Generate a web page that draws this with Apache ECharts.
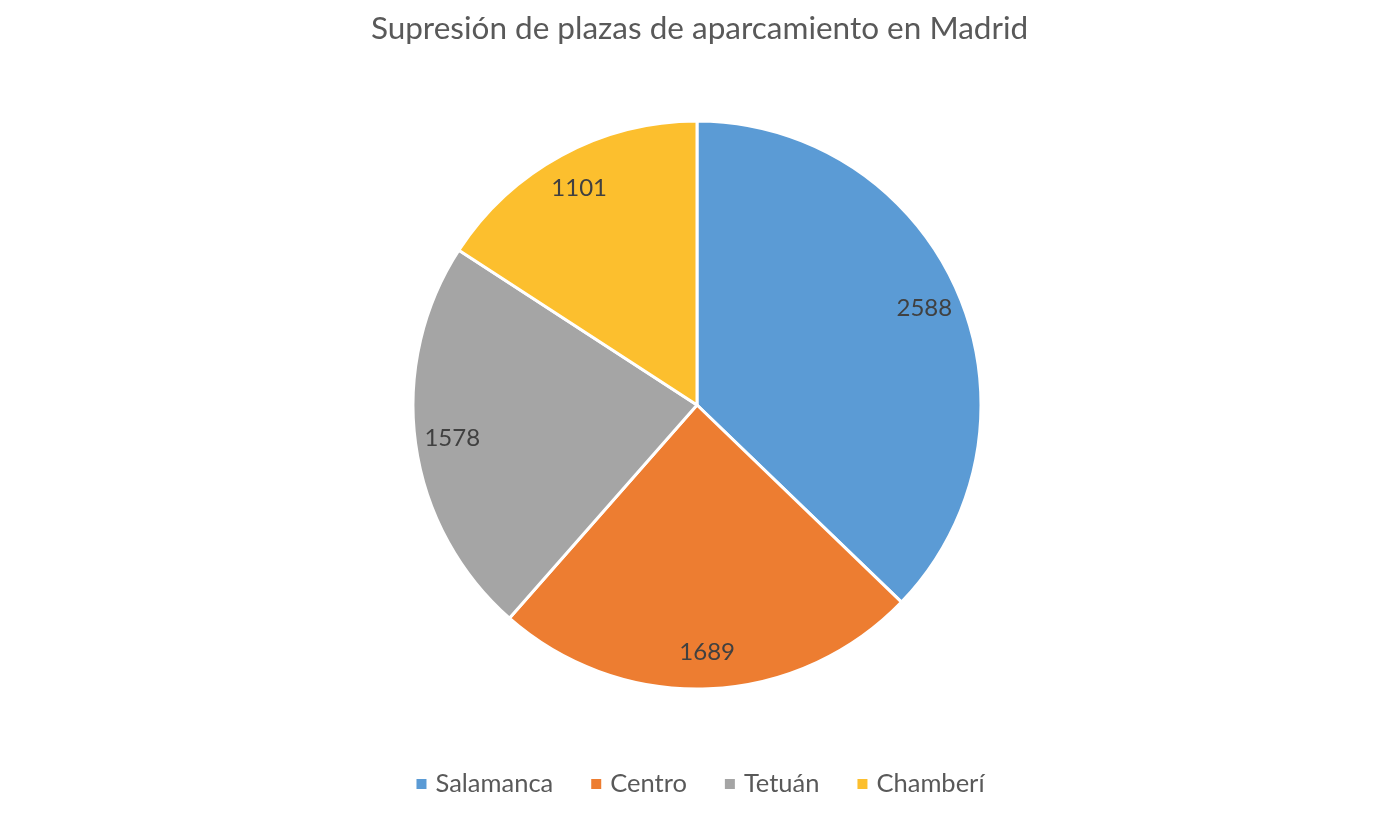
<!DOCTYPE html>
<html>
<head>
<meta charset="utf-8">
<script src="https://cdn.jsdelivr.net/npm/echarts@6/dist/echarts.min.js"></script>
<style>
html,body{margin:0;padding:0;background:#fff;}
#chart{width:1399px;height:817px;}
</style>
</head>
<body>
<div id="chart"></div>
<script>
var titleText = 'Supresión de plazas de aparcamiento en Madrid';
var categories = ['Salamanca', 'Centro', 'Tetuán', 'Chamberí'];
var values = [2588, 1689, 1578, 1101];
var colors = ['#5B9BD5', '#ED7D31', '#A5A5A5', '#FCBF2E'];

var data = categories.map(function (c, i) {
  return { name: c, value: values[i], itemStyle: { color: colors[i] } };
});
var labelData = categories.map(function (c, i) {
  return { name: c, value: values[i] };
});

var chart = echarts.init(document.getElementById('chart'));
chart.setOption({
  backgroundColor: '#ffffff',
  animation: false,
  title: {
    text: titleText,
    left: 'center',
    top: 8,
    textStyle: { fontFamily: 'Lato', fontSize: 31.5, fontWeight: 'normal', color: '#595959' }
  },
  legend: {
    bottom: 15,
    left: 'center',
    itemWidth: 12,
    itemHeight: 12,
    itemGap: 36,
    icon: 'rect',
    data: categories,
    textStyle: { fontFamily: 'Lato', fontSize: 25.5, color: '#595959', padding: [0, 0, 0, 3] }
  },
  series: [
    {
      type: 'pie',
      center: [697, 405],
      radius: [0, 284],
      startAngle: 90,
      clockwise: true,
      label: { show: false },
      labelLine: { show: false },
      itemStyle: { borderColor: '#ffffff', borderWidth: 3 },
      emphasis: { disabled: true },
      data: data
    },
    {
      type: 'pie',
      center: [697, 405],
      radius: [204, 284],
      startAngle: 90,
      clockwise: true,
      silent: true,
      legendHoverLink: false,
      itemStyle: { color: 'rgba(0,0,0,0)' },
      label: {
        show: true,
        position: 'inside',
        formatter: '{c}',
        fontFamily: 'Lato',
        fontSize: 24,
        color: '#404040'
      },
      labelLine: { show: false },
      emphasis: { disabled: true },
      data: labelData
    }
  ]
});
</script>
</body>
</html>
